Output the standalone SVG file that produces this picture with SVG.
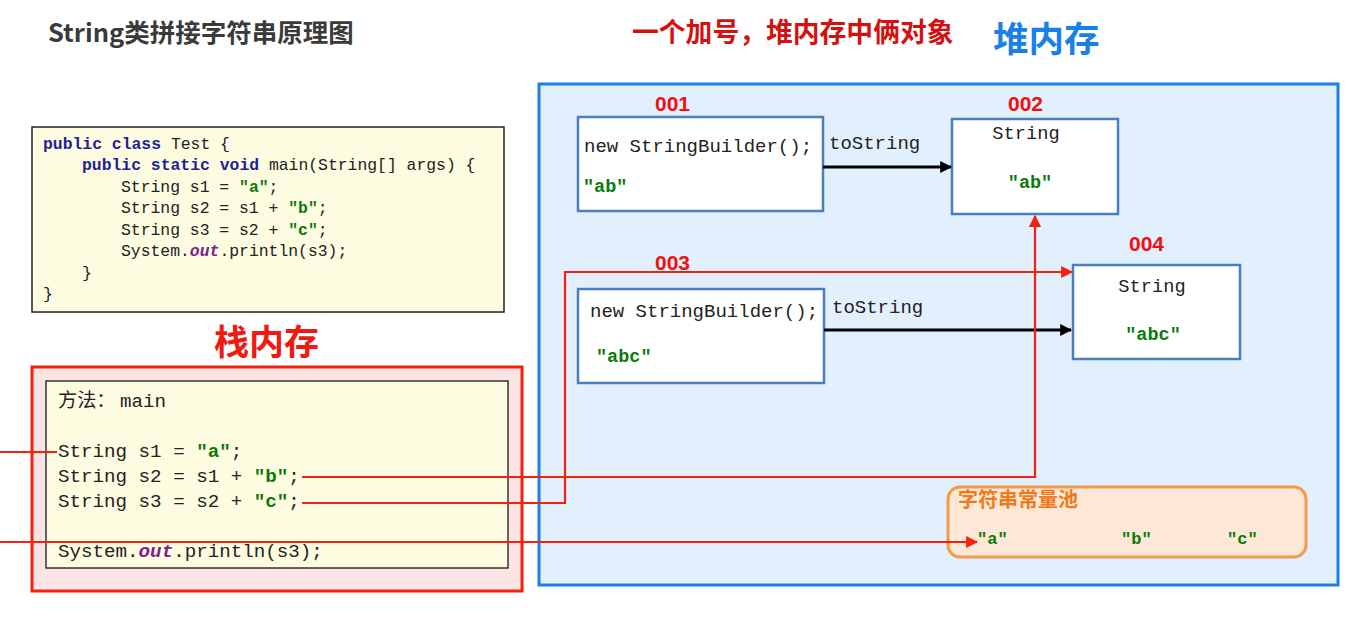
<svg xmlns="http://www.w3.org/2000/svg" width="1361" height="628" viewBox="0 0 1361 628">
<defs>
<style>
.code{font-family:"Liberation Mono","Noto Sans CJK SC",monospace;fill:#222;}
.kw{fill:#1f1f9a;font-weight:bold;}
.str{fill:#0a7a0a;font-weight:bold;}
.out{fill:#7a1f8c;font-weight:bold;font-style:italic;}
.addr{font-family:"Liberation Sans",Arial,sans-serif;font-weight:bold;font-size:21px;fill:#f01010;}
.obj{fill:#ffffff;stroke:#4a7ec0;stroke-width:2.5;}
.cjk{font-family:"Noto Sans CJK SC",sans-serif;font-weight:bold;}
.red{stroke:#f5200e;stroke-width:2.2;fill:none;}
.blk{stroke:#000;stroke-width:3;fill:none;}
</style>
<marker id="ar" viewBox="0 0 10 10" refX="9" refY="5" markerWidth="5.5" markerHeight="5.5" orient="auto"><path d="M0,0 L10,5 L0,10 z" fill="#f5200e"/></marker>
<marker id="ab" viewBox="0 0 10 10" refX="9" refY="5" markerWidth="4" markerHeight="4" orient="auto"><path d="M0,0 L10,5 L0,10 z" fill="#000"/></marker>
</defs>
<rect width="1361" height="628" fill="#ffffff"/>

<g id="titles">
<text x="48" y="42" class="cjk" font-size="25.5" fill="#3a3a3a">String类拼接字符串原理图</text>
<text x="632" y="42" class="cjk" font-size="26.8" fill="#d41010">一个加号，堆内存中俩对象</text>
<text x="993" y="52" class="cjk" font-size="35.5" fill="#1a7fe8">堆内存</text>
<text x="214" y="355" class="cjk" font-size="35" fill="#f01a10">栈内存</text>
</g>

<g id="code-box">
<rect x="32" y="127" width="472" height="185" fill="#fdfbe0" stroke="#222" stroke-width="1.5"/>
<g class="code" font-size="16.4">
<text x="43" y="148.5"><tspan class="kw">public class</tspan> Test {</text>
<text x="82" y="170"><tspan class="kw">public static void</tspan> main(String[] args) {</text>
<text x="121" y="191.5">String s1 = <tspan class="str">"a"</tspan>;</text>
<text x="121" y="213">String s2 = s1 + <tspan class="str">"b"</tspan>;</text>
<text x="121" y="234.5">String s3 = s2 + <tspan class="str">"c"</tspan>;</text>
<text x="121" y="256">System.<tspan class="out">out</tspan>.println(s3);</text>
<text x="82" y="277.5">}</text>
<text x="43" y="299">}</text>
</g>
</g>

<g id="heap">
<rect x="539" y="84" width="799" height="501" fill="#e2effc" stroke="#1a7fe8" stroke-width="3"/>
</g>

<g id="stack">
<rect x="32" y="367" width="490" height="224" fill="#fde4e4" stroke="#f5200e" stroke-width="3"/>
<rect x="46" y="381" width="462" height="187" fill="#fdfbe0" stroke="#333" stroke-width="1.5"/>
<g class="code" font-size="19.2">
<text x="58" y="406.5">方法：<tspan x="120">main</tspan></text>
<text x="58" y="456.5">String s1 = <tspan class="str">"a"</tspan>;</text>
<text x="58" y="481.5">String s2 = s1 + <tspan class="str">"b"</tspan>;</text>
<text x="58" y="506.5">String s3 = s2 + <tspan class="str">"c"</tspan>;</text>
<text x="58" y="556.5">System.<tspan class="out">out</tspan>.println(s3);</text>
</g>
</g>

<g id="obj001">
<text x="655" y="111" class="addr">001</text>
<rect x="578" y="117" width="245" height="94" class="obj"/>
<text x="584" y="152" class="code" font-size="19">new StringBuilder();</text>
<text x="583" y="192" class="code str" font-size="18.5">"ab"</text>
</g>

<g id="obj002">
<text x="1008" y="111" class="addr">002</text>
<rect x="952" y="119" width="166" height="95" class="obj"/>
<text x="1026" y="139" class="code" font-size="18.7" text-anchor="middle">String</text>
<text x="1030" y="188" class="code str" font-size="18.5" text-anchor="middle">"ab"</text>
</g>

<g id="obj003">
<text x="655" y="270" class="addr">003</text>
<rect x="578" y="289" width="246" height="94" class="obj"/>
<text x="590" y="317" class="code" font-size="19">new StringBuilder();</text>
<text x="596" y="362" class="code str" font-size="18.5">"abc"</text>
</g>

<g id="obj004">
<text x="1129" y="251" class="addr">004</text>
<rect x="1073" y="265" width="167" height="94" class="obj"/>
<text x="1152" y="292" class="code" font-size="18.7" text-anchor="middle">String</text>
<text x="1153" y="340" class="code str" font-size="18.5" text-anchor="middle">"abc"</text>
</g>

<g id="string-pool">
<rect x="948" y="487" width="358" height="70" rx="12" fill="#fde7d6" stroke="#f59a4a" stroke-width="3"/>
<text x="958" y="507" class="cjk" font-size="20" fill="#f07a1a">字符串常量池</text>
<text x="977" y="544" class="code str" font-size="17">"a"</text>
<text x="1121" y="544" class="code str" font-size="17">"b"</text>
<text x="1227" y="544" class="code str" font-size="17">"c"</text>
</g>

<g id="connectors">
<path d="M823,167 H951" class="blk" marker-end="url(#ab)"/>
<text x="829" y="149" class="code" font-size="19">toString</text>
<path d="M824,330 H1071" class="blk" marker-end="url(#ab)"/>
<text x="832" y="313" class="code" font-size="19">toString</text>
<path d="M0,452 H57" class="red"/>
<path d="M302,477 H1035 V216" class="red" marker-end="url(#ar)"/>
<path d="M302,503 H565 V272 H1072" class="red" marker-end="url(#ar)"/>
<path d="M0,542 H977" class="red" marker-end="url(#ar)"/>
</g>
</svg>
